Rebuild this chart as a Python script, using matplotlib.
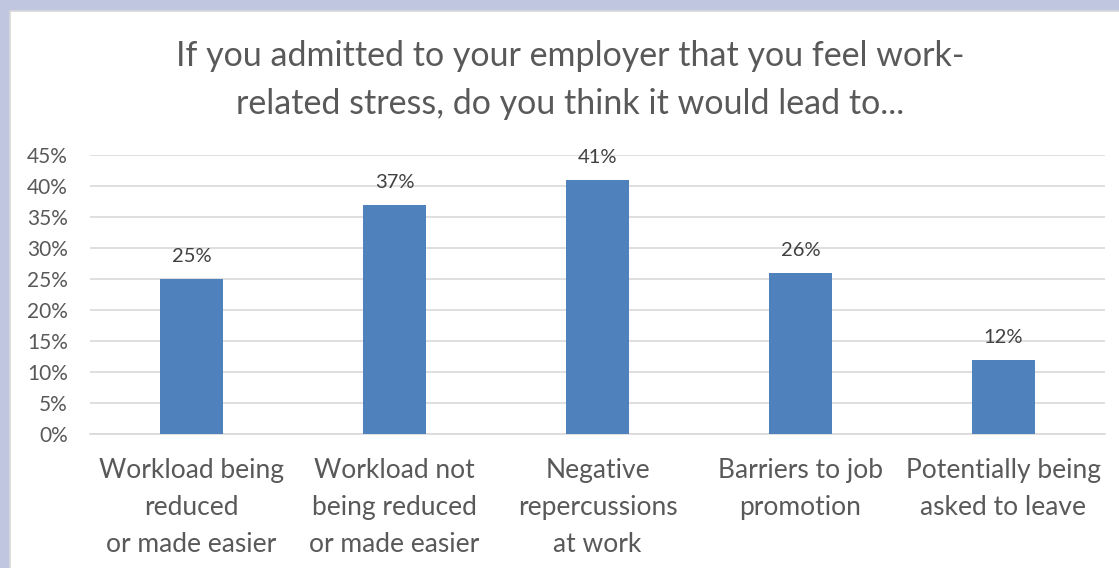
import matplotlib.pyplot as plt
from matplotlib.patches import Rectangle

# Survey answers: share of respondents per expected outcome
categories = [
    "Workload being\nreduced\nor made easier",
    "Workload not\nbeing reduced\nor made easier",
    "Negative\nrepercussions\nat work",
    "Barriers to job\npromotion",
    "Potentially being\nasked to leave",
]
values = [25, 37, 41, 26, 12]
yticks = [0, 5, 10, 15, 20, 25, 30, 35, 40, 45]

title = ("If you admitted to your employer that you feel work-\n"
         "related stress, do you think it would lead to...")

plt.rcParams['font.family'] = ['Lato', 'DejaVu Sans']
text_color = '#595959'
bar_color = '#4F81BD'

fig = plt.figure(figsize=(11.19, 5.68), dpi=100)
fig.patch.set_facecolor('#C0C6E0')

# white chart panel with thin grey frame
panel = Rectangle((10 / 1119, -0.1), 1.2, (568 - 11) / 568 + 0.1,
                  transform=fig.transFigure, facecolor='white',
                  edgecolor='#D9D9D9', linewidth=1.2, zorder=-5)
fig.patches.append(panel)

ax = fig.add_axes([90 / 1119, (568 - 434) / 568, 1015 / 1119, (434 - 155) / 568])
ax.set_facecolor('none')
ax.set_zorder(2)

x = range(len(values))
bars = ax.bar(x, values, width=0.315, color=bar_color, zorder=3)

for xi, v in zip(x, values):
    ax.text(xi, v + 2.2, f"{v}%", ha='center', va='bottom',
            fontsize=14.5, color='#404040')

ax.set_xlim(-0.5, len(values) - 0.5)
ax.set_ylim(0, 45)
ax.set_yticks(yticks)
ax.set_yticklabels([f"{t}%" for t in yticks], fontsize=15, color=text_color)
ax.yaxis.grid(True, color='#D9D9D9', linewidth=1.2, zorder=0)
ax.set_xticks(list(x))
ax.set_xticklabels(categories, fontsize=19, color=text_color, linespacing=1.6)
ax.tick_params(axis='both', length=0)
ax.tick_params(axis='y', pad=16)
ax.tick_params(axis='x', pad=17)
for side in ['top', 'right', 'left']:
    ax.spines[side].set_visible(False)
ax.spines['bottom'].set_color('#D9D9D9')
ax.spines['bottom'].set_linewidth(1.2)

fig.text(570 / 1119, 1 - 80 / 568, title, ha='center', va='center',
         fontsize=24.5, color=text_color, linespacing=1.6)

fig.savefig('out.png', dpi=100)
